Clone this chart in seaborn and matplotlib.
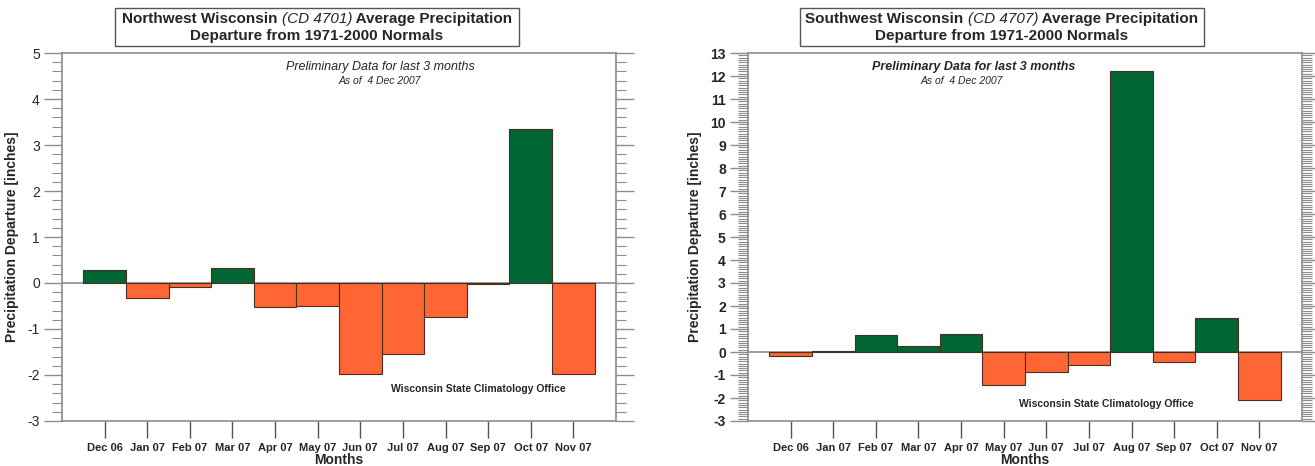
import matplotlib
matplotlib.use("Agg")
import matplotlib.pyplot as plt
import seaborn as sns
from matplotlib.ticker import MultipleLocator

months = ["Dec 06", "Jan 07", "Feb 07", "Mar 07", "Apr 07", "May 07",
          "Jun 07", "Jul 07", "Aug 07", "Sep 07", "Oct 07", "Nov 07"]
nw_departure = [0.28, -0.33, -0.09, 0.32, -0.52, -0.50, -1.97, -1.54, -0.74, -0.03, 3.35, -1.97]
sw_departure = [-0.17, 0.06, 0.74, 0.25, 0.77, -1.43, -0.86, -0.55, 12.21, -0.44, 1.50, -2.10]

GREEN = "#006633"
ORANGE = "#ff6633"
GRAY = "#8c8c8c"

sns.set_style("white")
plt.rcParams["font.family"] = ["Liberation Sans", "DejaVu Sans"]
plt.rcParams["axes.unicode_minus"] = False

fig = plt.figure(figsize=(13.15, 4.66), dpi=100)
ax_l = fig.add_axes([62 / 1315, 45 / 466, 554 / 1315, 368 / 466])
ax_r = fig.add_axes([748 / 1315, 45 / 466, 554 / 1315, 368 / 466])


def draw_panel(ax, values, ylim, minor, bold_ticks):
    colors = [GREEN if v > 0 else ORANGE for v in values]
    sns.barplot(x=months, y=values, hue=months, palette=colors, legend=False,
                width=1.0, edgecolor="#4a2e22", linewidth=0.8, saturation=1, ax=ax)
    ax.axhline(0, color=GRAY, lw=1.2, zorder=0.5)
    ax.set_xlim(-1, 12)
    ax.set_ylim(*ylim)
    ax.yaxis.set_major_locator(MultipleLocator(1))
    ax.yaxis.set_minor_locator(MultipleLocator(minor))
    ax.set_xticks(range(len(months)))
    ax.set_xticklabels(months, fontsize=8, fontweight="bold")
    for lab in ax.get_yticklabels():
        lab.set_fontweight("bold" if bold_ticks else "normal")
    ax.tick_params(axis="y", which="major", direction="out", length=13, width=1,
                   color=GRAY, labelsize=10, left=True, right=True, pad=3)
    ax.tick_params(axis="y", which="minor", direction="out", length=7, width=0.8,
                   color=GRAY, left=True, right=True)
    ax.tick_params(axis="x", which="major", direction="out", length=12, width=1,
                   color="#555555", bottom=True, pad=4)
    for sp in ax.spines.values():
        sp.set_visible(True)
        sp.set_color(GRAY)
        sp.set_linewidth(1.2)
    ax.set_xlabel("Months", fontsize=10, fontweight="bold", labelpad=0)
    ax.set_ylabel("Precipitation Departure [inches]", fontsize=10, fontweight="bold", labelpad=6)


draw_panel(ax_l, nw_departure, (-3, 5), 0.2, False)
draw_panel(ax_r, sw_departure, (-3, 13), 0.1, True)

# annotations
ax_l.text(0.574, 0.963, "Preliminary Data for last 3 months", transform=ax_l.transAxes,
          ha="center", va="center", fontsize=9, style="italic")
ax_l.text(0.574, 0.925, "As of  4 Dec 2007", transform=ax_l.transAxes,
          ha="center", va="center", fontsize=7.5, style="italic")
ax_l.text(0.751, 0.087, "Wisconsin State Climatology Office", transform=ax_l.transAxes,
          ha="center", va="center", fontsize=7.5, fontweight="bold")

ax_r.text(0.408, 0.963, "Preliminary Data for last 3 months", transform=ax_r.transAxes,
          ha="center", va="center", fontsize=9, style="italic", fontweight="bold")
ax_r.text(0.385, 0.925, "As of  4 Dec 2007", transform=ax_r.transAxes,
          ha="center", va="center", fontsize=7.5, style="italic")
ax_r.text(0.646, 0.046, "Wisconsin State Climatology Office", transform=ax_r.transAxes,
          ha="center", va="center", fontsize=7.5, fontweight="bold")


def boxed_title(cx, name, cd):
    y0, y1 = 1 - 46 / 466, 1 - 8 / 466
    w = 404 / 1315
    rect = plt.Rectangle((cx - w / 2, y0), w, y1 - y0, transform=fig.transFigure,
                         fill=False, edgecolor="#555555", lw=1)
    fig.add_artist(rect)
    parts = [(name + " ", "normal", "bold"), ("(CD " + cd + ")", "italic", "normal"),
             (" Average Precipitation", "normal", "bold")]
    fs = 11
    renderer = fig.canvas.get_renderer()
    texts = []
    for s, st, wt in parts:
        t = fig.text(0, 1 - 19 / 466, s, fontsize=fs, style=st, fontweight=wt,
                     ha="left", va="center")
        texts.append(t)
    widths = [t.get_window_extent(renderer).width / 1315 for t in texts]
    x = cx - sum(widths) / 2
    for t, wdt in zip(texts, widths):
        t.set_x(x)
        x += wdt
    fig.text(cx, 1 - 36 / 466, "Departure from 1971-2000 Normals", fontsize=fs,
             fontweight="bold", ha="center", va="center")


boxed_title(317 / 1315, "Northwest Wisconsin", "4701")
boxed_title(1002 / 1315, "Southwest Wisconsin", "4707")

fig.savefig("out.png", dpi=100)
